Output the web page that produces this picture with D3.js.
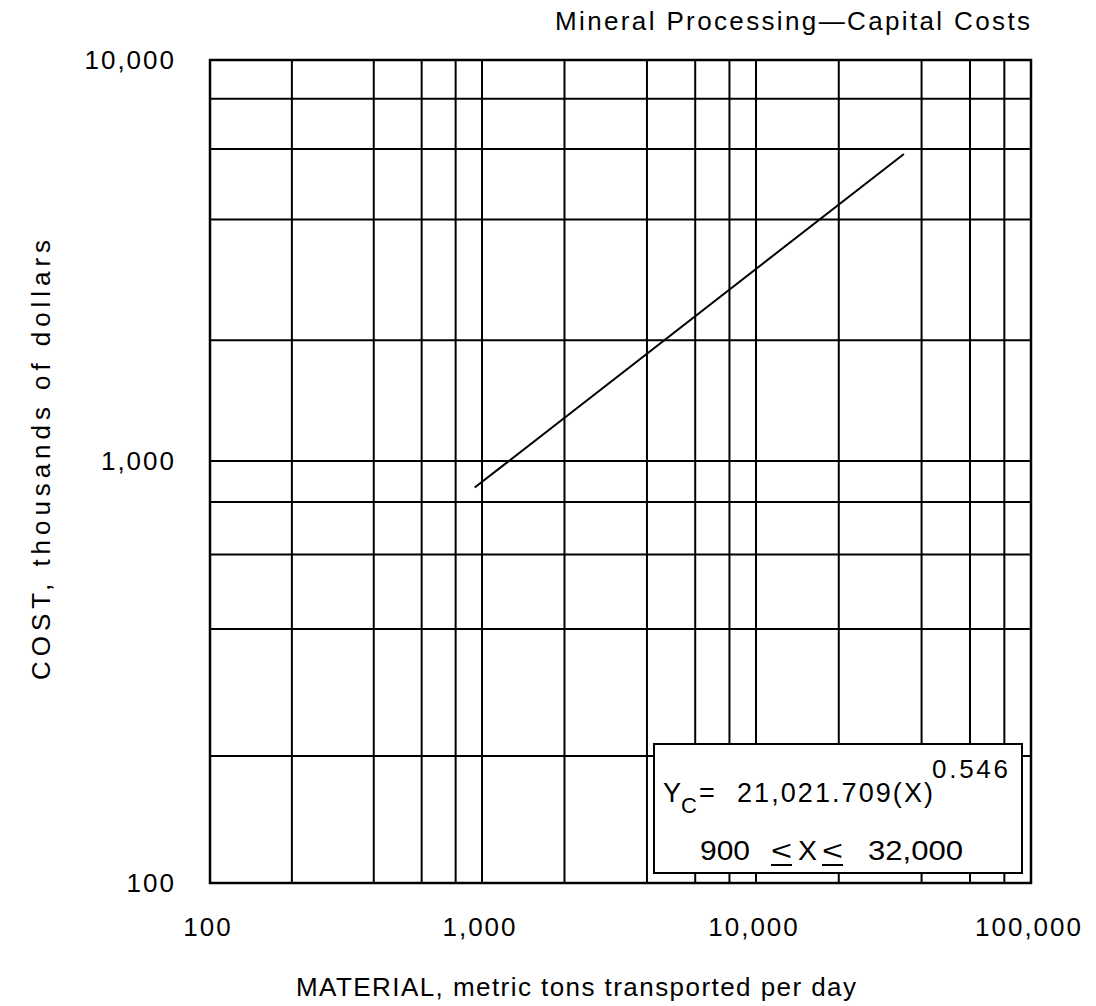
<!DOCTYPE html>
<html>
<head>
<meta charset="utf-8">
<script src="https://cdn.jsdelivr.net/npm/d3@7"></script>
<style>
  body { margin: 0; background: #fff; }
  text { font-family: "Liberation Sans", Arial, sans-serif; fill: #000; }
</style>
</head>
<body>
<svg width="1096" height="1006"></svg>
<script>
// values
var material = [940, 34500];          // metric tons per day, line ends
var cost = [865, 5830];               // thousands of dollars
var xTicks = [100, 1000, 10000, 100000];
var yTicks = [100, 1000, 10000];
var gridMult = [2, 4, 6, 8];

var svg = d3.select("svg");
var fmt = d3.format(",");

// the printed grid is a little uneven, so anchor each decade
var x = d3.scaleLog().domain([100, 1000, 10000, 100000]).range([210, 482, 756, 1031]);
var y = d3.scaleLog().domain([100, 1000, 10000]).range([883, 461, 60]);

var xGrid = [], yGrid = [];
[100, 1000, 10000].forEach(function(d) {
  gridMult.forEach(function(m) { xGrid.push(d * m); });
});
[100, 1000].forEach(function(d) {
  gridMult.forEach(function(m) { yGrid.push(d * m); });
});

var g = svg.append("g");

g.selectAll(".vgrid")
  .data(xGrid.concat([1000, 10000]))
  .enter().append("line")
    .attr("x1", function(d) { return x(d); })
    .attr("x2", function(d) { return x(d); })
    .attr("y1", y(10000)).attr("y2", y(100))
    .attr("stroke", "#000").attr("stroke-width", 2);

g.selectAll(".hgrid")
  .data(yGrid.concat([1000]))
  .enter().append("line")
    .attr("y1", function(d) { return y(d); })
    .attr("y2", function(d) { return y(d); })
    .attr("x1", x(100)).attr("x2", x(100000))
    .attr("stroke", "#000").attr("stroke-width", 2);

g.append("rect")
  .attr("x", x(100)).attr("y", y(10000))
  .attr("width", x(100000) - x(100))
  .attr("height", y(100) - y(10000))
  .attr("fill", "none").attr("stroke", "#000").attr("stroke-width", 2.5);

// fitted line
var line = d3.line()
  .x(function(d) { return x(d[0]); })
  .y(function(d) { return y(d[1]); });

g.append("path")
  .datum(d3.zip(material, cost))
  .attr("d", line)
  .attr("fill", "none").attr("stroke", "#000").attr("stroke-width", 2);

// tick labels
g.selectAll(".xlab")
  .data(xTicks)
  .enter().append("text")
    .attr("x", function(d) { return x(d) - 2; })
    .attr("y", 936)
    .attr("text-anchor", "middle")
    .style("font-size", "26px")
    .style("letter-spacing", "2px")
    .text(fmt);

g.selectAll(".ylab")
  .data(yTicks)
  .enter().append("text")
    .attr("x", 176)
    .attr("y", function(d) { return y(d) + 9; })
    .attr("text-anchor", "end")
    .style("font-size", "26px")
    .style("letter-spacing", "2px")
    .text(fmt);

// titles
svg.append("text")
  .attr("x", 555).attr("y", 30)
  .attr("textLength", 475).attr("lengthAdjust", "spacing")
  .style("font-size", "26px")
  .text("Mineral Processing\u2014Capital Costs");

svg.append("text")
  .attr("transform", "translate(50,460) rotate(-90)")
  .attr("x", -220)
  .attr("textLength", 440).attr("lengthAdjust", "spacing")
  .style("font-size", "26px")
  .text("COST, thousands of dollars");

svg.append("text")
  .attr("x", 296).attr("y", 996)
  .attr("textLength", 560).attr("lengthAdjust", "spacing")
  .style("font-size", "26px")
  .text("MATERIAL, metric tons transported per day");

// equation box
var box = svg.append("g");
box.append("rect")
  .attr("x", 654).attr("y", 744)
  .attr("width", 368).attr("height", 129)
  .attr("fill", "#fff").attr("stroke", "#000").attr("stroke-width", 2);

box.append("text").attr("x", 663).attr("y", 802)
  .style("font-size", "27px").text("Y");
box.append("text").attr("x", 681).attr("y", 813)
  .style("font-size", "22px").text("C");
box.append("text").attr("x", 699).attr("y", 802)
  .style("font-size", "27px").text("=");
box.append("text").attr("x", 737).attr("y", 802)
  .attr("textLength", 196).attr("lengthAdjust", "spacing")
  .style("font-size", "27px").text("21,021.709(X)");
box.append("text").attr("x", 932).attr("y", 778)
  .attr("textLength", 76).attr("lengthAdjust", "spacing")
  .style("font-size", "26px").text("0.546");

var rng = [
  {t: "900", x: 700, w: 50},
  {t: "<", x: 771, w: 21, u: true},
  {t: "X", x: 798, w: 19},
  {t: "<", x: 822, w: 21, u: true},
  {t: "32,000", x: 868, w: 95}
];
box.selectAll(".rng")
  .data(rng)
  .enter().append("text")
    .attr("x", function(d) { return d.x; })
    .attr("y", 860)
    .attr("textLength", function(d) { return d.w; })
    .attr("lengthAdjust", "spacingAndGlyphs")
    .style("font-size", "27px")
    .text(function(d) { return d.t; });
box.selectAll(".und")
  .data(rng.filter(function(d) { return d.u; }))
  .enter().append("line")
    .attr("x1", function(d) { return d.x; })
    .attr("x2", function(d) { return d.x + d.w; })
    .attr("y1", 865).attr("y2", 865)
    .attr("stroke", "#000").attr("stroke-width", 2);
</script>
</body>
</html>
